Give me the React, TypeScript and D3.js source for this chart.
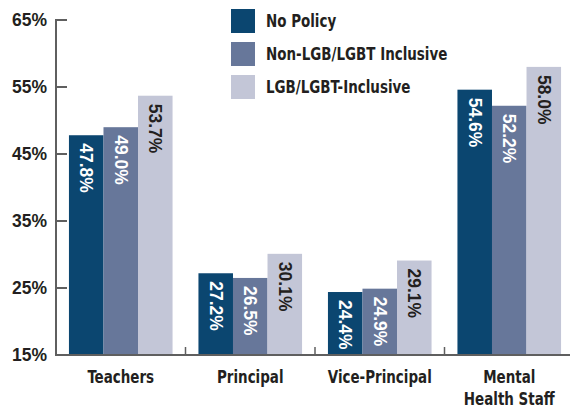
import React from 'react';
import * as d3 from 'd3';

const categories = ['Teachers', 'Principal', 'Vice-Principal', 'Mental Health Staff'];
const categoryLines = [['Teachers'], ['Principal'], ['Vice-Principal'], ['Mental', 'Health Staff']];
const seriesNames = ['No Policy', 'Non-LGB/LGBT Inclusive', 'LGB/LGBT-Inclusive'];
const noPolicy = [47.8, 27.2, 24.4, 54.6];
const nonInclusive = [49.0, 26.5, 24.9, 52.2];
const inclusive = [53.7, 30.1, 29.1, 58.0];
const yTicks = [15, 25, 35, 45, 55, 65];

const colors = ['#0b4670', '#67779a', '#c3c6d7'];
const labelColors = ['#ffffff', '#ffffff', '#231f20'];
const axisColor = '#5f5f5f';
const textColor = '#231f20';
const wideFont = '"Liberation Sans", Arial, sans-serif';
const narrowFont = '"DejaVu Sans Condensed", "Liberation Sans Narrow", sans-serif';
const squeeze = 0.88; // condensed look for legend + category names

export default function App() {
  const width = 570;
  const height = 409;
  const left = 56;
  const top = 20;
  const bottom = 355;

  const series = [noPolicy, nonInclusive, inclusive];

  const x = d3.scaleBand().domain(categories).range([left, 574]).paddingInner(0.2).paddingOuter(0.1);
  const xInner = d3.scaleBand().domain(seriesNames).range([0, x.bandwidth()]);
  const y = d3.scaleLinear().domain([15, 65]).range([bottom, top]);

  // separators sit halfway between groups
  const separators = categories.slice(1).map((c) => (x(c) as number) - (x.step() - x.bandwidth()) / 2);

  return (
    <svg width={width} height={height} style={{ position: 'absolute', left: 0, top: 0, background: '#fff' }}>
      {categories.map((c, ci) => (
        <g key={c} transform={`translate(${x(c)},0)`}>
          {series.map((vals, si) => {
            const bx = xInner(seriesNames[si]) as number;
            const bw = xInner.bandwidth();
            const yv = y(vals[ci]);
            return (
              <g key={si}>
                <rect x={bx} y={yv} width={bw} height={bottom - yv} fill={colors[si]} />
                <text
                  transform={`translate(${bx + bw / 2},${yv + 8}) rotate(90)`}
                  dominantBaseline="central"
                  fontFamily={wideFont}
                  fontWeight="bold"
                  fontSize={17.5}
                  fill={labelColors[si]}
                >
                  {vals[ci].toFixed(1)}%
                </text>
              </g>
            );
          })}
        </g>
      ))}

      {/* y axis */}
      <line x1={left} x2={left} y1={top - 1} y2={bottom + 1} stroke={axisColor} strokeWidth={2} />
      {yTicks.map((t) => (
        <g key={t}>
          <line x1={left} x2={left + 11} y1={y(t)} y2={y(t)} stroke={axisColor} strokeWidth={2} />
          <text
            x={47}
            y={y(t)}
            textAnchor="end"
            dominantBaseline="central"
            fontFamily={wideFont}
            fontWeight="bold"
            fontSize={17.5}
            fill={textColor}
          >
            {t}%
          </text>
        </g>
      ))}

      {/* x axis */}
      <line x1={left - 1} x2={width} y1={bottom} y2={bottom} stroke={axisColor} strokeWidth={2} />
      {separators.map((sx, i) => (
        <line key={i} x1={sx} x2={sx} y1={bottom} y2={bottom - 8} stroke={axisColor} strokeWidth={1.5} />
      ))}
      {categories.map((c, ci) => (
        <g key={c} transform={`translate(${(x(c) as number) + x.bandwidth() / 2},383) scale(${squeeze},1)`}>
          {categoryLines[ci].map((line, li) => (
            <text
              key={li}
              y={li * 22}
              textAnchor="middle"
              fontFamily={narrowFont}
              fontWeight="bold"
              fontSize={17}
              fill={textColor}
            >
              {line}
            </text>
          ))}
        </g>
      ))}

      {/* legend */}
      {seriesNames.map((s, i) => (
        <g key={s} transform={`translate(231,${9 + i * 33})`}>
          <rect width={24} height={24} fill={colors[i]} />
          <text
            transform={`translate(35,18) scale(${squeeze},1)`}
            fontFamily={narrowFont}
            fontWeight="bold"
            fontSize={17}
            fill={textColor}
          >
            {s}
          </text>
        </g>
      ))}
    </svg>
  );
}
